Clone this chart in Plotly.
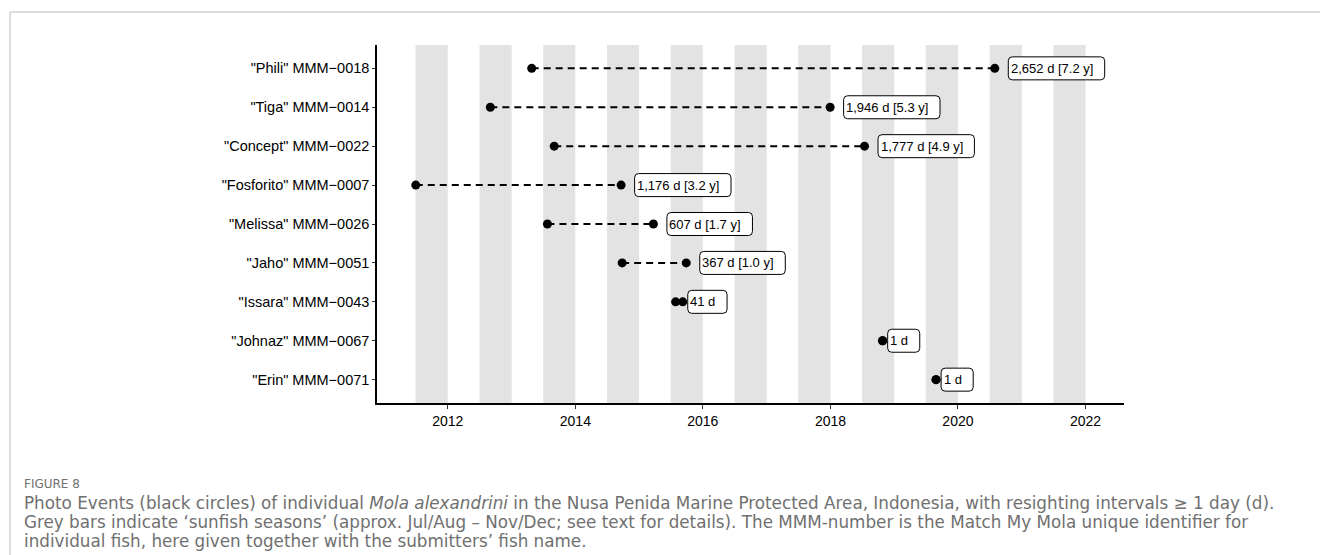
import plotly.graph_objects as go

# ---------------- data ----------------
fish_names = ['"Phili" MMM\u22120018', '"Tiga" MMM\u22120014', '"Concept" MMM\u22120022',
              '"Fosforito" MMM\u22120007', '"Melissa" MMM\u22120026', '"Jaho" MMM\u22120051',
              '"Issara" MMM\u22120043', '"Johnaz" MMM\u22120067', '"Erin" MMM\u22120071']
first_sighting = ["2013-04-26", "2012-09-01", "2013-09-02", "2011-07-02", "2013-07-25",
                  "2014-09-26", "2015-07-29", "2018-10-26", "2019-08-28"]
last_sighting = ["2020-07-30", "2017-12-30", "2018-07-15", "2014-09-20", "2015-03-24",
                 "2015-09-28", "2015-09-08", "2018-10-27", "2019-08-29"]
interval_labels = ["2,652 d [7.2 y]", "1,946 d [5.3 y]", "1,777 d [4.9 y]", "1,176 d [3.2 y]",
                   "607 d [1.7 y]", "367 d [1.0 y]", "41 d", "1 d", "1 d"]
season_years = [2011, 2012, 2013, 2014, 2015, 2016, 2017, 2018, 2019, 2020, 2021]
tick_years = [2012, 2014, 2016, 2018, 2020, 2022]

caption_lines = [
    "Photo Events (black circles) of individual <i>Mola alexandrini</i> in the Nusa Penida Marine Protected Area, Indonesia, with resighting intervals \u2265 1 day (d).",
    "Grey bars indicate \u2018sunfish seasons\u2019 (approx. Jul/Aug \u2013 Nov/Dec; see text for details). The MMM-number is the Match My Mola unique identifier for",
    "individual fish, here given together with the submitters\u2019 fish name.",
]

# ---------------- layout geometry ----------------
W, H = 1320, 555
ML, MR, MT, MB = 377, 196, 45, 152
PW, PH = W - ML - MR, H - MT - MB


def px_x(px):
    return (px - ML) / PW


def px_y(py):
    return (H - MB - py) / PH


LABEL_SIZE = 13
# approximate Arial/Liberation Sans advance widths (em)
CHAR_EM = {",": 0.278, ".": 0.278, " ": 0.278, "[": 0.278, "]": 0.278, "d": 0.556, "y": 0.5}


def text_width(s):
    return sum(CHAR_EM.get(c, 0.556) for c in s) * LABEL_SIZE


def rounded_box(x0, x1, h, r):
    return (f"M {x0 + r},{-h} L {x1 - r},{-h} Q {x1},{-h} {x1},{-h + r} "
            f"L {x1},{h - r} Q {x1},{h} {x1 - r},{h} L {x0 + r},{h} Q {x0},{h} {x0},{h - r} "
            f"L {x0},{-h + r} Q {x0},{-h} {x0 + r},{-h} Z")


n = len(fish_names)
ypos = [n - i for i in range(n)]

fig = go.Figure()

# dashed connecting lines
lx, ly = [], []
for i in range(n):
    lx += [first_sighting[i], last_sighting[i], None]
    ly += [ypos[i], ypos[i], None]
fig.add_trace(go.Scatter(x=lx, y=ly, mode="lines",
                         line=dict(color="black", width=2, dash="7px,5px"),
                         hoverinfo="skip", showlegend=False))

# photo events
fig.add_trace(go.Scatter(x=first_sighting + last_sighting, y=ypos + ypos, mode="markers",
                         marker=dict(color="black", size=9), showlegend=False))

shapes = []
for yr in season_years:
    shapes.append(dict(type="rect", xref="x", yref="paper",
                       x0=f"{yr}-07-01", x1=f"{yr + 1}-01-01", y0=0, y1=1,
                       fillcolor="#e3e3e3", line=dict(width=0), layer="below"))

# figure frame (journal box)
frame_col = "#d0d0d0"
shapes.append(dict(type="line", xref="paper", yref="paper",
                   x0=px_x(10), x1=px_x(W), y0=px_y(12), y1=px_y(12),
                   line=dict(color=frame_col, width=1.5)))
shapes.append(dict(type="line", xref="paper", yref="paper",
                   x0=px_x(10), x1=px_x(10), y0=px_y(12), y1=px_y(H),
                   line=dict(color=frame_col, width=1.5)))

annotations = []
for i in range(n):
    lab = interval_labels[i]
    shift = 13.5 if "[" in lab else 5
    w = text_width(lab) + 14
    shapes.append(dict(type="path", xref="x", yref="y",
                       xsizemode="pixel", ysizemode="pixel",
                       xanchor=last_sighting[i], yanchor=ypos[i],
                       path=rounded_box(shift, shift + w, 11.5, 4),
                       fillcolor="white", line=dict(color="black", width=1), layer="above"))
    annotations.append(dict(x=last_sighting[i], y=ypos[i], xref="x", yref="y",
                            text=lab, showarrow=False,
                            xanchor="left", yanchor="middle", xshift=shift + 1.5,
                            font=dict(family="Liberation Sans, Arial", size=LABEL_SIZE, color="black"),
                            borderpad=0))

annotations.append(dict(x=px_x(22), y=px_y(484), xref="paper", yref="paper",
                        text="FIGURE 8", showarrow=False, xanchor="left", yanchor="middle",
                        font=dict(family="DejaVu Sans", size=12, color="#707070")))
for k, line in enumerate(caption_lines):
    annotations.append(dict(x=px_x(22), y=px_y(503 + 19 * k), xref="paper", yref="paper",
                            text=line, showarrow=False, xanchor="left", yanchor="middle",
                            font=dict(family="DejaVu Sans", size=16.8, color="#707070")))

fig.update_layout(
    width=W, height=H,
    margin=dict(l=ML, r=MR, t=MT, b=MB, autoexpand=False),
    paper_bgcolor="white", plot_bgcolor="white",
    shapes=shapes, annotations=annotations,
    xaxis=dict(type="date", range=["2010-11-22", "2022-08-09"],
               tickvals=[f"{y}-01-01" for y in tick_years],
               ticktext=[str(y) for y in tick_years],
               showgrid=False, zeroline=False, showline=True, linecolor="black", linewidth=1.5,
               ticks="outside", ticklen=4, tickwidth=1, tickcolor="#333",
               tickfont=dict(family="Liberation Sans, Arial", size=14, color="black")),
    yaxis=dict(range=[0.4, n + 0.6], tickvals=ypos, ticktext=fish_names,
               showgrid=False, zeroline=False, showline=True, linecolor="black", linewidth=1.5,
               ticks="outside", ticklen=3, tickwidth=1, tickcolor="#333",
               tickfont=dict(family="Liberation Sans, Arial", size=14.5, color="black")),
    showlegend=False,
)

fig.write_html("out.html")
